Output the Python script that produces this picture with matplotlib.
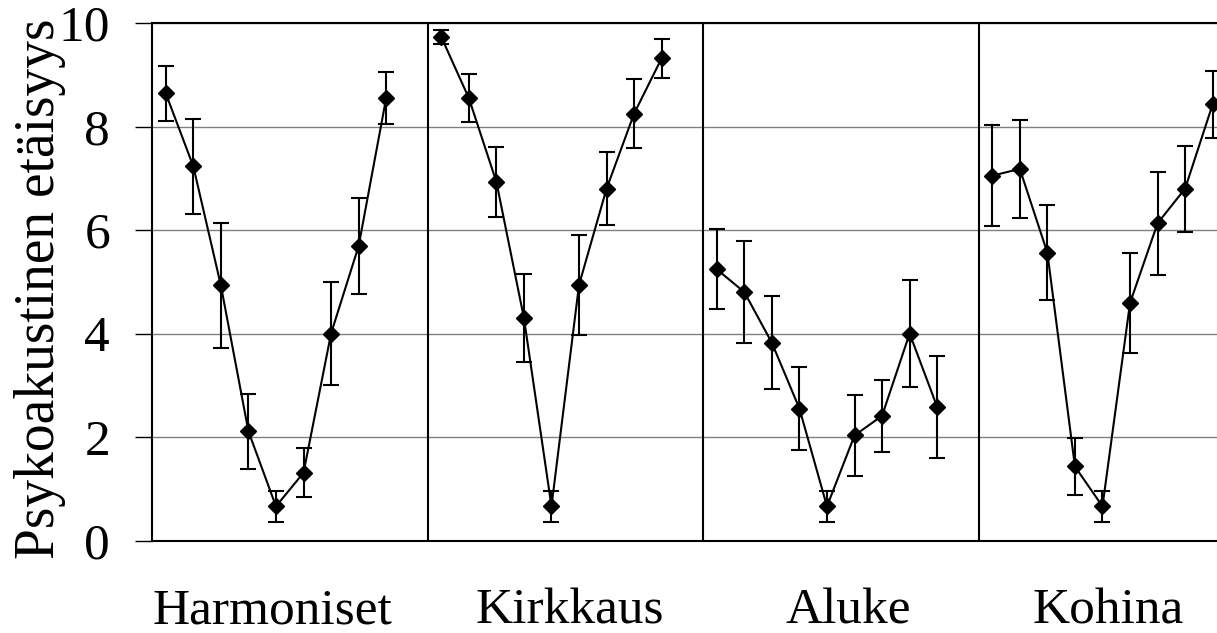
import matplotlib.pyplot as plt
import numpy as np

plt.rcParams['font.family'] = ['Liberation Serif', 'DejaVu Serif']

groups = ['Harmoniset', 'Kirkkaus', 'Aluke', 'Kohina']

harmoniset = [8.64, 7.23, 4.93, 2.11, 0.66, 1.31, 4.00, 5.69, 8.55]
harmoniset_err = [0.53, 0.92, 1.21, 0.72, 0.30, 0.47, 1.00, 0.92, 0.51]

kirkkaus = [9.73, 8.55, 6.93, 4.30, 0.66, 4.94, 6.80, 8.25, 9.32]
kirkkaus_err = [0.13, 0.47, 0.68, 0.85, 0.30, 0.96, 0.70, 0.66, 0.38]

aluke = [5.24, 4.80, 3.82, 2.55, 0.66, 2.03, 2.41, 4.00, 2.58]
aluke_err = [0.77, 0.98, 0.90, 0.80, 0.30, 0.79, 0.70, 1.04, 0.98]

kohina = [7.05, 7.18, 5.56, 1.43, 0.66, 4.59, 6.13, 6.80, 8.43]
kohina_err = [0.98, 0.95, 0.92, 0.55, 0.30, 0.96, 1.00, 0.83, 0.65]

series = [harmoniset, kirkkaus, aluke, kohina]
errors = [harmoniset_err, kirkkaus_err, aluke_err, kohina_err]

# where each group name sits along the x axis
label_x = [4.38, 15.18, 25.26, 34.7]

W, H = 1217, 633
fig = plt.figure(figsize=(W / 100, H / 100), dpi=100)
slot = 27.55
# the last panel runs past the right edge of the figure
ax = fig.add_axes([152 / W, (H - 540.5) / H, 40 * slot / W, (540.5 - 23) / H])

for i, (vals, err) in enumerate(zip(series, errors)):
    x = 10 * i + 0.5 + np.arange(len(vals))
    ax.errorbar(x, vals, yerr=err, color='black', lw=1.5, elinewidth=1.5,
                capsize=6, capthick=1.5, marker='D', ms=8.2, mfc='black',
                mec='black', zorder=3)
    if i > 0:
        ax.axvline(10 * i, color='black', lw=1.5, zorder=2)

ax.set_xlim(0, 40)
ax.set_ylim(0, 10)
ax.set_yticks(np.arange(0, 11, 2))
ax.set_xticks([])
ax.yaxis.grid(True, color='#808080', lw=1.0)
ax.set_axisbelow(True)
ax.tick_params(axis='y', direction='out', length=12.2, width=1.0, pad=18,
               labelsize=37, colors='black')
for s in ['left', 'top', 'bottom']:
    ax.spines[s].set_linewidth(1.5)
ax.spines['right'].set_visible(False)

for name, lx in zip(groups, label_x):
    ax.text(lx, -1.36, name, ha='center', va='center', fontsize=37,
            transform=ax.transData)

fig.text(40 / W, 1 - 289 / H, 'Psykoakustinen etäisyys', rotation=90,
         ha='center', va='center', fontsize=40)

fig.savefig('out.png', dpi=100)
